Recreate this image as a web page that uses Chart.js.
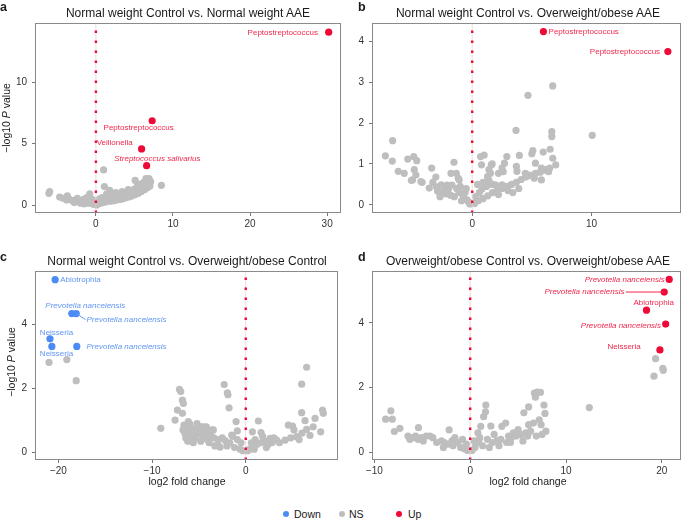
<!DOCTYPE html>
<html>
<head>
<meta charset="utf-8">
<script src="https://cdn.jsdelivr.net/npm/chart.js@4.4.1/dist/chart.umd.min.js"></script>
<style>
  body { margin: 0; background: #fff; }
  #wrap { position: relative; width: 685px; height: 521px; font-family: "Liberation Sans", Arial, sans-serif; color: #1a1a1a; }
  canvas { position: absolute; }
  .ttl { position: absolute; font-size: 12px; white-space: nowrap; transform: translate(-50%, -50%); }
  .let { position: absolute; font-size: 12.5px; font-weight: bold; }
  .yt { position: absolute; font-size: 10.5px; white-space: nowrap; transform: translate(-50%, -50%) rotate(-90deg); }
  .xt { position: absolute; font-size: 10.5px; white-space: nowrap; transform: translate(-50%, -50%); }
  .lg { position: absolute; font-size: 10.5px; top: 508px; }
  .dot { position: absolute; width: 6px; height: 6px; border-radius: 50%; top: 511px; }
</style>
</head>
<body>
<div id="wrap">
  <canvas id="pa" width="345" height="232" style="left:0;top:0"></canvas>
  <canvas id="pb" width="340" height="232" style="left:345px;top:0"></canvas>
  <canvas id="pc" width="345" height="245" style="left:0;top:232px"></canvas>
  <canvas id="pd" width="340" height="245" style="left:345px;top:232px"></canvas>

  <div class="let" style="left:0;top:0">a</div>
  <div class="let" style="left:358px;top:0">b</div>
  <div class="let" style="left:0;top:250px">c</div>
  <div class="let" style="left:358px;top:250px">d</div>

  <div class="ttl" style="left:188px;top:13px">Normal weight Control vs. Normal weight AAE</div>
  <div class="ttl" style="left:528px;top:13px">Normal weight Control vs. Overweight/obese AAE</div>
  <div class="ttl" style="left:187px;top:261px">Normal weight Control vs. Overweight/obese Control</div>
  <div class="ttl" style="left:528px;top:261px">Overweight/obese Control vs. Overweight/obese AAE</div>

  <div class="yt" style="left:6px;top:118px">&minus;log10 <i>P</i> value</div>
  <div class="yt" style="left:11px;top:362px">&minus;log10 <i>P</i> value</div>
  <div class="xt" style="left:187px;top:481px">log2 fold change</div>
  <div class="xt" style="left:528px;top:481px">log2 fold change</div>

  <div class="dot" style="left:283px;background:#4C8BF5"></div>
  <div class="lg" style="left:294px">Down</div>
  <div class="dot" style="left:339px;background:#BEBEBE"></div>
  <div class="lg" style="left:349px">NS</div>
  <div class="dot" style="left:396px;background:#EE0A36"></div>
  <div class="lg" style="left:408px">Up</div>
</div>
<script>
// ---- data (log2 fold change, -log10 p) ----
const nsA = [[-6.0,1.1],[-6.1,0.95],[-4.7,0.65],[-3.7,0.75],[-4.3,0.55],[-3.4,0.45],[-3.0,0.35],[-2.6,0.4],[-2.2,0.3],[-1.8,0.35],[-1.4,0.25],[-1.0,0.3],[-0.8,0.9],[-0.9,0.15],[-0.6,0.2],[-0.4,0.1],[-0.2,0.05],[-2.8,0.2],[-2.0,0.15],[-1.5,0.1],[-3.8,0.4],[-0.5,0.45],[-1.2,0.6],
  [0.1,0.0],[0.3,0.1],[0.6,0.15],[0.9,0.2],[1.2,0.25],[1.5,0.3],[1.9,0.3],[2.3,0.35],[2.7,0.4],[3.1,0.45],[3.5,0.5],[3.9,0.6],[4.3,0.65],[4.7,0.75],[5.1,0.85],[5.5,0.95],[5.9,1.1],[6.3,1.25],[6.7,1.4],[7.0,1.55],
  [0.5,0.5],[1.0,2.85],[1.1,1.5],[1.4,0.9],[1.8,1.2],[2.2,0.8],[2.6,1.0],[3.0,0.75],[3.4,1.1],[3.8,0.9],[4.2,1.25],[4.6,1.05],[5.0,1.3],[5.1,2.0],[5.4,1.55],[5.8,1.7],[6.2,1.85],[6.5,2.15],[6.9,2.15],[7.1,1.9],[8.5,1.6],[2.0,0.55],[3.2,0.6],[4.4,0.9],[5.6,1.2],[6.4,1.6],[0.8,0.6],[1.6,0.7],
  [-2.4,0.55],[-1.6,0.45],[0.3,0.35],[1.0,0.45],[2.5,0.6],[3.6,0.75],[4.9,1.0],[6.0,1.45],[6.8,1.75]];
const upA = [[30.2,14.05],[7.3,6.85],[5.93,4.56],[6.58,3.2]];

const nsB = [[-6.67,1.57],[-7.28,1.2],[-6.7,1.07],[-6.2,0.82],[-5.7,0.77],[-5.4,1.12],[-4.9,1.18],[-4.65,1.08],[-4.86,0.86],[-4.72,0.73],[-5.0,0.61],[-4.2,0.55],[-3.4,0.9],[-3.05,0.68],[-3.6,0.41],[-2.9,0.33],[-2.36,0.41],[-1.53,1.04],[-1.33,0.77],[-1.1,0.61],[-2.2,0.27],[-1.8,0.23],[-1.1,0.3],[-0.7,0.15],[-0.44,0.12],[-0.3,0.07],
  [-5.1,0.6],[-4.3,0.57],[-3.0,0.44],[-2.6,0.49],[-1.78,0.77],[-1.17,0.65],[-2.1,0.48],[-1.7,0.48],[-2.4,0.33],[-1.5,0.2],[-0.9,0.1],[-0.5,0.4],[-1.3,0.4],[-0.2,0.02],[-2.0,0.38],[-0.8,0.25],
  [1.0,1.22],[0.7,1.18],[0.78,0.98],[1.28,0.69],[0.45,0.5],[0.9,0.55],[1.4,0.6],[0.2,0.03],[0.5,0.1],[0.9,0.15],[1.3,0.22],[1.7,0.3],[2.1,0.35],[2.5,0.4],[2.9,0.45],[3.3,0.5],[3.7,0.55],[4.1,0.62],[4.5,0.68],[4.9,0.72],[5.3,0.77],[5.7,0.8],[6.1,0.85],[6.5,0.9],
  [1.67,1.0],[1.53,0.77],[1.95,0.49],[2.9,1.18],[2.7,1.02],[2.5,0.9],[2.2,0.77],[3.7,0.94],[3.67,1.82],[3.95,1.21],[4.67,2.68],[5.0,1.25],[5.08,1.33],[5.95,1.29],[6.53,1.36],[6.67,1.79],[6.67,1.67],[6.75,2.91],[6.75,1.14],[7.0,0.98],[10.06,1.7],
  [1.6,0.98],[1.4,0.86],[2.6,0.81],[3.75,0.82],[5.3,1.02],[5.8,0.9],[6.2,0.86],[6.4,0.81],[4.7,0.73],[5.2,0.65],[5.8,0.61],[4.45,0.77],[2.5,0.49],[3.0,0.35],[3.4,0.3],[3.9,0.4],[1.2,0.45],[1.7,0.5],[0.6,0.3],[2.2,0.25],
  [-0.6,0.3],[-1.0,0.45],[0.3,0.2],[0.8,0.38],[-3.3,0.55],[-2.7,0.2]];
const upB = [[5.97,4.24],[16.4,3.75]];

const nsC = [[-21.0,2.81],[-19.1,2.9],[-18.1,2.24],
  [-9.07,0.75],[-7.08,1.97],[-6.94,1.9],[-6.76,1.63],[-6.66,1.53],[-7.3,1.32],[-6.76,1.22],[-7.55,1.01],[-6.13,0.96],
  [-6.6,0.85],[-6.4,0.75],[-6.5,0.6],[-6.3,0.5],[-6.1,0.65],[-5.9,0.8],[-5.7,0.55],[-5.5,0.7],[-5.3,0.45],[-5.1,0.75],[-4.9,0.6],[-4.7,0.8],[-4.5,0.5],[-4.3,0.65],[-4.1,0.4],[-3.9,0.55],[-3.6,0.7],[-3.4,0.45],[-5.8,0.4],[-6.2,0.35],[-4.8,0.35],[-3.9,0.3],[-6.0,0.9],[-5.2,0.9],[-4.2,0.8],[-5.6,0.3],
  [-4.5,0.8],[-3.46,0.7],[-2.3,2.12],[-1.96,1.86],[-1.9,1.8],[-1.78,1.39],[-1.03,0.96],[-0.9,0.67],[-2.74,0.16],[-2.2,0.37],[-1.5,0.54],[-3.0,0.25],[-2.5,0.45],[-2.0,0.2],[-1.7,0.3],[-1.2,0.15],[-0.9,0.4],[-0.6,0.1],[-0.3,0.05],[-1.4,0.5],[-0.5,0.3],[-2.9,0.4],[-3.3,0.2],
  [0.2,0.05],[0.4,0.1],[0.71,0.64],[0.8,0.2],[1.35,0.98],[1.63,0.62],[1.2,0.25],[1.6,0.3],[2.0,0.35],[2.4,0.25],[2.6,0.44],[2.8,0.3],[3.3,0.38],[3.0,0.45],[3.6,0.3],[4.2,0.38],[4.55,0.85],[5.15,0.7],[5.0,0.82],[5.44,0.49],[5.97,2.13],[5.97,1.24],[6.33,0.99],[6.5,0.72],[6.5,2.66],[6.86,0.53],[7.2,0.8],[7.4,1.06],[8.0,0.64],[8.2,1.32],[8.28,1.22],[6.0,0.6],[5.7,0.4],[4.8,0.45],[1.0,0.4],[0.6,0.3],[1.8,0.5],[2.2,0.15],[0.9,0.1],
  [-6.4,0.45],[-5.4,0.6],[-4.6,0.65],[-3.7,0.5],[-5.9,0.6],[-6.7,0.7]];
const downC = [[-20.35,5.4],[-18.57,4.34],[-18.1,4.34],[-20.9,3.55],[-20.7,3.31],[-18.04,3.31]];

const nsD = [[19.35,2.89],[20.1,2.59],[20.15,2.53],[19.18,2.35],[12.43,1.38],
  [-8.83,1.02],[-8.28,1.28],[-8.13,1.02],[-7.92,0.64],[-7.34,0.74],[-6.5,0.5],[-6.0,0.45],[-5.7,0.5],[-5.45,0.4],[-5.4,0.76],[-5.1,0.45],[-4.6,0.5],[-4.2,0.5],[-3.9,0.45],[-2.2,0.69],[-3.0,0.35],[-2.7,0.3],[-2.3,0.25],[-1.8,0.2],[-1.3,0.3],[-1.0,0.15],[-0.6,0.1],[-0.3,0.05],[-2.8,0.15],[-1.6,0.45],[-0.8,0.4],[-3.5,0.3],[-6.3,0.4],[-4.9,0.35],
  [0.2,0.05],[0.5,0.15],[0.8,0.6],[1.1,0.8],[1.4,1.1],[1.6,1.25],[1.63,1.46],[2.15,0.81],[0.9,0.3],[1.3,0.2],[1.8,0.4],[2.3,0.3],[2.8,0.35],[3.3,0.8],[3.7,0.9],[3.2,0.4],[3.8,0.3],[4.3,0.45],[4.8,0.5],[5.3,0.55],[5.6,1.22],[6.1,1.4],[5.8,0.6],[6.3,0.65],[6.7,1.83],[7.0,1.86],[7.34,1.85],[6.8,1.7],[7.7,1.46],[7.8,1.2],[7.9,0.65],[7.4,0.85],[6.1,0.85],[5.0,0.7],[4.5,0.6],[6.6,0.9],[7.2,1.0],[2.5,0.55],[4.0,0.5],[1.0,0.45],[7.5,0.55],[6.9,0.5],[5.5,0.35],[2.0,0.15],
  [-1.9,0.35],[-0.4,0.25],[0.4,0.35],[3.0,0.2],[4.2,0.3],[6.0,0.5]];
const upD = [[20.77,5.34],[20.25,4.95],[18.4,4.39],[20.4,3.96],[19.8,3.16]];

// axis ranges and ticks
const xRangeA = [-7.9, 31.8],  yRangeA = [-0.65, 14.8];
const xRangeB = [-8.4, 17.5],  yRangeB = [-0.2, 4.45];
const xRangeC = [-22.5, 9.85], yRangeC = [-0.24, 5.67];
const xRangeD = [-10.25, 22.0], yRangeD = [-0.24, 5.6];
const xTicksA = [0, 10, 20, 30], yTicksA = [0, 5, 10];
const xTicksB = [0, 10],         yTicksB = [0, 1, 2, 3, 4];
const xTicksC = [-20, -10, 0],   yTicksC = [0, 2, 4];
const xTicksD = [-10, 0, 10, 20], yTicksD = [0, 2, 4];

// gene labels: [text, x, y, align, italic]
const notesA = [["Peptostreptococcus", 28.8, 14.04, "right", false],
  ["Peptostreptococcus", 5.55, 6.25, "center", false],
  ["Veillonella", 0.1, 5.03, "left", false],
  ["Streptococcus salivarius", 2.38, 3.75, "left", true]];
const notesB = [["Peptostreptococcus", 6.4, 4.23, "left", false],
  ["Peptostreptococcus", 15.75, 3.75, "right", false]];
const notesC = [["Abiotrophia", -19.8, 5.4, "left", false],
  ["Prevotella nanceiensis", -21.4, 4.57, "left", true],
  ["Prevotella nanceiensis", -17.0, 4.13, "left", true],
  ["Neisseria", -20.2, 3.75, "center", false],
  ["Neisseria", -20.2, 3.07, "center", false],
  ["Prevotella nanceiensis", -17.0, 3.31, "left", true]];
const notesD = [["Prevotella nanceiensis", 20.3, 5.34, "right", true],
  ["Prevotella nanceiensis", 16.1, 4.95, "right", true],
  ["Abiotrophia", 19.15, 4.62, "center", false],
  ["Prevotella nanceiensis", 19.9, 3.91, "right", true],
  ["Neisseria", 17.8, 3.26, "right", false]];
const linksC = [[-18.1, 4.34, -17.1, 4.15]];
const linksD = [[16.25, 4.95, 20.25, 4.95]];

const RED = "#EE0A36", BLUE = "#4C8BF5", GREY = "#BEBEBE";
const RED_TXT = "#F0284E", BLUE_TXT = "#6196F2";
const FONT = "'Liberation Sans', Arial, sans-serif";

function pts(arr) {
  return arr.map(p => ({ x: p[0], y: p[1] }));
}
function minus(v) {
  return String(v).replace("-", "\u2212");
}

// box around the panel, ggplot style
const framePlugin = {
  id: "frame",
  afterDraw(chart) {
    const a = chart.chartArea, ctx = chart.ctx;
    ctx.save();
    ctx.strokeStyle = "#8a8a8a";
    ctx.lineWidth = 1;
    ctx.strokeRect(Math.round(a.left) + 0.5, Math.round(a.top) + 0.5,
      Math.round(a.right - a.left) - 1, Math.round(a.bottom - a.top) - 1);
    ctx.restore();
  }
};

function notesPlugin(notes, links, color) {
  return {
    id: "notes",
    afterDatasetsDraw(chart) {
      const ctx = chart.ctx, sx = chart.scales.x, sy = chart.scales.y;
      ctx.save();
      ctx.strokeStyle = color;
      ctx.lineWidth = 1;
      links.forEach(l => {
        ctx.beginPath();
        ctx.moveTo(sx.getPixelForValue(l[0]), sy.getPixelForValue(l[1]));
        ctx.lineTo(sx.getPixelForValue(l[2]), sy.getPixelForValue(l[3]));
        ctx.stroke();
      });
      ctx.fillStyle = color;
      ctx.textBaseline = "middle";
      notes.forEach(n => {
        ctx.font = (n[4] ? "italic " : "") + "8px " + FONT;
        ctx.textAlign = n[3];
        ctx.fillText(n[0], sx.getPixelForValue(n[1]), sy.getPixelForValue(n[2]));
      });
      ctx.restore();
    }
  };
}

function panel(id, o) {
  const tickFont = { family: FONT, size: 10 };
  const datasets = [];
  if (o.up) datasets.push({ data: pts(o.up), backgroundColor: RED, pointRadius: 3.6, borderWidth: 0, order: 1 });
  if (o.down) datasets.push({ data: pts(o.down), backgroundColor: BLUE, pointRadius: 3.6, borderWidth: 0, order: 1 });
  datasets.push({
    type: "line", data: [{ x: 0, y: o.yr[0] }, { x: 0, y: o.yr[1] }],
    borderColor: RED, borderWidth: 2.4, borderDash: [2.6, 7.4], pointRadius: 0, order: 2
  });
  datasets.push({
    type: "line", data: [{ x: 0, y: o.yr[0] }, { x: 0, y: o.yr[1] }],
    borderColor: "rgba(230,205,205,0.7)", borderWidth: 1, pointRadius: 0, order: 2.5
  });
  datasets.push({ data: pts(o.ns), backgroundColor: GREY, pointRadius: 3.6, borderWidth: 0, order: 3 });

  new Chart(document.getElementById(id).getContext("2d"), {
    type: "scatter",
    data: { datasets },
    options: {
      responsive: false,
      animation: false,
      events: [],
      layout: { padding: { left: 0, right: o.padR, top: o.padT, bottom: o.padB } },
      plugins: { legend: { display: false }, tooltip: { enabled: false } },
      scales: {
        x: {
          type: "linear", min: o.xr[0], max: o.xr[1],
          afterBuildTicks: s => { s.ticks = o.xt.map(v => ({ value: v })); },
          afterFit: s => { s.height = 15; },
          border: { display: false },
          grid: { drawOnChartArea: false, drawTicks: true, tickLength: 3, color: "#777" },
          ticks: { font: tickFont, color: "#333", padding: 2, maxRotation: 0, autoSkip: false, callback: v => minus(v) }
        },
        y: {
          type: "linear", min: o.yr[0], max: o.yr[1],
          afterBuildTicks: s => { s.ticks = o.yt.map(v => ({ value: v })); },
          afterFit: s => { s.width = o.yw; },
          border: { display: false },
          grid: { drawOnChartArea: false, drawTicks: true, tickLength: 3, color: "#777" },
          ticks: { font: tickFont, color: "#333", padding: 5, autoSkip: false, callback: v => minus(v) }
        }
      }
    },
    plugins: [framePlugin, notesPlugin(o.notes, o.links || [], o.txt)]
  });
}

panel("pa", { ns: nsA, up: upA, xr: xRangeA, yr: yRangeA, xt: xTicksA, yt: yTicksA,
  yw: 35, padR: 4, padT: 23, padB: 4, notes: notesA, txt: RED_TXT });
panel("pb", { ns: nsB, up: upB, xr: xRangeB, yr: yRangeB, xt: xTicksB, yt: yTicksB,
  yw: 27, padR: 2, padT: 23, padB: 4, notes: notesB, txt: RED_TXT });
panel("pc", { ns: nsC, down: downC, xr: xRangeC, yr: yRangeC, xt: xTicksC, yt: yTicksC,
  yw: 35, padR: 7, padT: 39, padB: 2, notes: notesC, links: linksC, txt: BLUE_TXT });
panel("pd", { ns: nsD, up: upD, xr: xRangeD, yr: yRangeD, xt: xTicksD, yt: yTicksD,
  yw: 27, padR: 2, padT: 39, padB: 2, notes: notesD, links: linksD, txt: RED_TXT });
</script>
</body>
</html>
